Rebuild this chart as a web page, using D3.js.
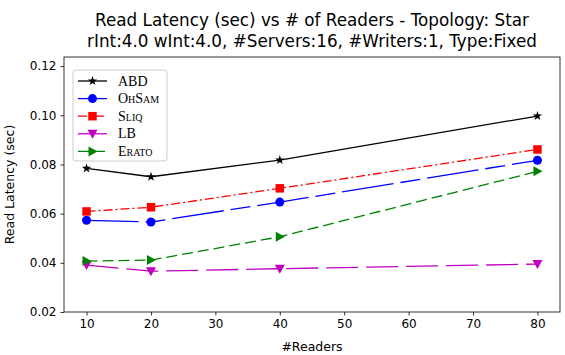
<!DOCTYPE html>
<html>
<head>
<meta charset="utf-8">
<script src="https://cdn.jsdelivr.net/npm/d3@7"></script>
<style>
    body { margin: 0; background: #fff; }
    text { font-family: 'DejaVu Sans', sans-serif; }
</style>
</head>
<body>
<div id="chart"></div>
<script>
// readers on the x axis
var readers = [10, 20, 40, 80];

// read latency (sec) per algorithm
var abd = [0.0784, 0.0750, 0.0818, 0.0997];
var ohsam = [0.0573, 0.0566, 0.0647, 0.0817];
var sliq = [0.0609, 0.0626, 0.0703, 0.0861];
var lb = [0.0391, 0.0366, 0.0376, 0.0395];
var erato = [0.0407, 0.0411, 0.0506, 0.0772];

var names = ['ABD', 'OhSam', 'Sliq', 'LB', 'Erato'];
var xTicks = [10, 20, 30, 40, 50, 60, 70, 80];
var yTicks = [0.02, 0.04, 0.06, 0.08, 0.10, 0.12];

var series = [
    { name: names[0], values: abd, color: 'black', dash: null, marker: 'star' },
    { name: names[1], values: ohsam, color: 'blue', dash: '52,7,20,7', marker: 'circle' },
    { name: names[2], values: sliq, color: 'red', dash: '9,3,2,3', marker: 'square' },
    { name: names[3], values: lb, color: '#c000c0', dash: '32,8', marker: 'tridown' },
    { name: names[4], values: erato, color: 'green', dash: '11,5', marker: 'triright' }
];

var W = 565, H = 355;
var margin = { top: 57, right: 5, bottom: 43, left: 64 };
var width = W - margin.left - margin.right;
var height = H - margin.top - margin.bottom;

var svg = d3
    .select('#chart')
    .append('svg')
    .attr('width', W)
    .attr('height', H);

var g = svg
    .append('g')
    .attr('transform', 'translate(' + margin.left + ',' + margin.top + ')');

var x = d3.scaleLinear().domain([6.5, 83.5]).range([0, width]);
var y = d3.scaleLinear().domain([0.02, 0.1237]).range([height, 0]);

// marker shapes
var markerPath = function(type) {
    if (type === 'star') return d3.symbol().type(d3.symbolStar).size(28)();
    if (type === 'circle') return d3.symbol().type(d3.symbolCircle).size(64)();
    if (type === 'square') return d3.symbol().type(d3.symbolSquare).size(72)();
    if (type === 'tridown') return 'M-5,-4L5,-4L0,5Z';
    if (type === 'triright') return 'M-4,-5L-4,5L5,0Z';
};

// axes
var xAxis = g
    .append('g')
    .attr('transform', 'translate(0,' + height + ')')
    .call(d3.axisBottom(x).tickValues(xTicks).tickSize(3.5).tickPadding(4));

var yAxis = g
    .append('g')
    .call(
        d3
            .axisLeft(y)
            .tickValues(yTicks)
            .tickFormat(d3.format('.2f'))
            .tickSize(3.5)
            .tickPadding(4)
    );

[xAxis, yAxis].forEach(function(a) {
    a.select('.domain').remove();
    a.selectAll('text')
        .style('font-family', "'DejaVu Sans', sans-serif")
        .style('font-size', '12px')
        .attr('fill', '#000');
    a.selectAll('line').attr('stroke', '#000').attr('stroke-width', 0.8);
});

g.append('rect')
    .attr('width', width)
    .attr('height', height)
    .attr('fill', 'none')
    .attr('stroke', '#000')
    .attr('stroke-width', 0.8);

// lines and points
var line = d3
    .line()
    .x(function(d, i) {
        return x(readers[i]);
    })
    .y(function(d) {
        return y(d);
    });

series.forEach(function(s) {
    g.append('path')
        .datum(s.values)
        .attr('fill', 'none')
        .attr('stroke', s.color)
        .attr('stroke-width', 1.3)
        .attr('stroke-dasharray', s.dash)
        .attr('d', line);

    g.append('g')
        .selectAll('path')
        .data(s.values)
        .enter()
        .append('path')
        .attr('transform', function(d, i) {
            return 'translate(' + x(readers[i]) + ',' + y(d) + ')';
        })
        .attr('d', markerPath(s.marker))
        .attr('fill', s.color);
});

// titles
svg.append('text')
    .attr('x', margin.left + width / 2)
    .attr('y', 26)
    .attr('text-anchor', 'middle')
    .style('font-size', '16.8px')
    .text('Read Latency (sec) vs # of Readers - Topology: Star');

svg.append('text')
    .attr('x', margin.left + width / 2)
    .attr('y', 47)
    .attr('text-anchor', 'middle')
    .style('font-size', '16.8px')
    .text('rInt:4.0 wInt:4.0, #Servers:16, #Writers:1, Type:Fixed');

svg.append('text')
    .attr('x', margin.left + width / 2)
    .attr('y', 351)
    .attr('text-anchor', 'middle')
    .style('font-size', '12.5px')
    .text('#Readers');

svg.append('text')
    .attr('transform', 'translate(14,' + (margin.top + height / 2) + ') rotate(-90)')
    .attr('text-anchor', 'middle')
    .style('font-size', '12.5px')
    .text('Read Latency (sec)');

// legend
var legend = svg.append('g').attr('transform', 'translate(73,70)');

legend
    .append('rect')
    .attr('width', 94)
    .attr('height', 91)
    .attr('rx', 3)
    .attr('fill', '#fff')
    .attr('fill-opacity', 0.8)
    .attr('stroke', '#ccc')
    .attr('stroke-width', 1);

series.forEach(function(s, i) {
    var ly = 11 + i * 17.6;
    legend
        .append('line')
        .attr('x1', 5)
        .attr('x2', 34)
        .attr('y1', ly)
        .attr('y2', ly)
        .attr('stroke', s.color)
        .attr('stroke-width', 1.3)
        .attr('stroke-dasharray', s.dash);
    legend
        .append('path')
        .attr('transform', 'translate(19.5,' + ly + ')')
        .attr('d', markerPath(s.marker))
        .attr('fill', s.color);
    legend
        .append('text')
        .attr('x', 45)
        .attr('y', ly + 4.5)
        .style('font-family', "'Liberation Serif', 'DejaVu Serif', serif")
        .style('font-variant', 'small-caps')
        .style('font-size', '14px')
        .text(s.name);
});
</script>
</body>
</html>
